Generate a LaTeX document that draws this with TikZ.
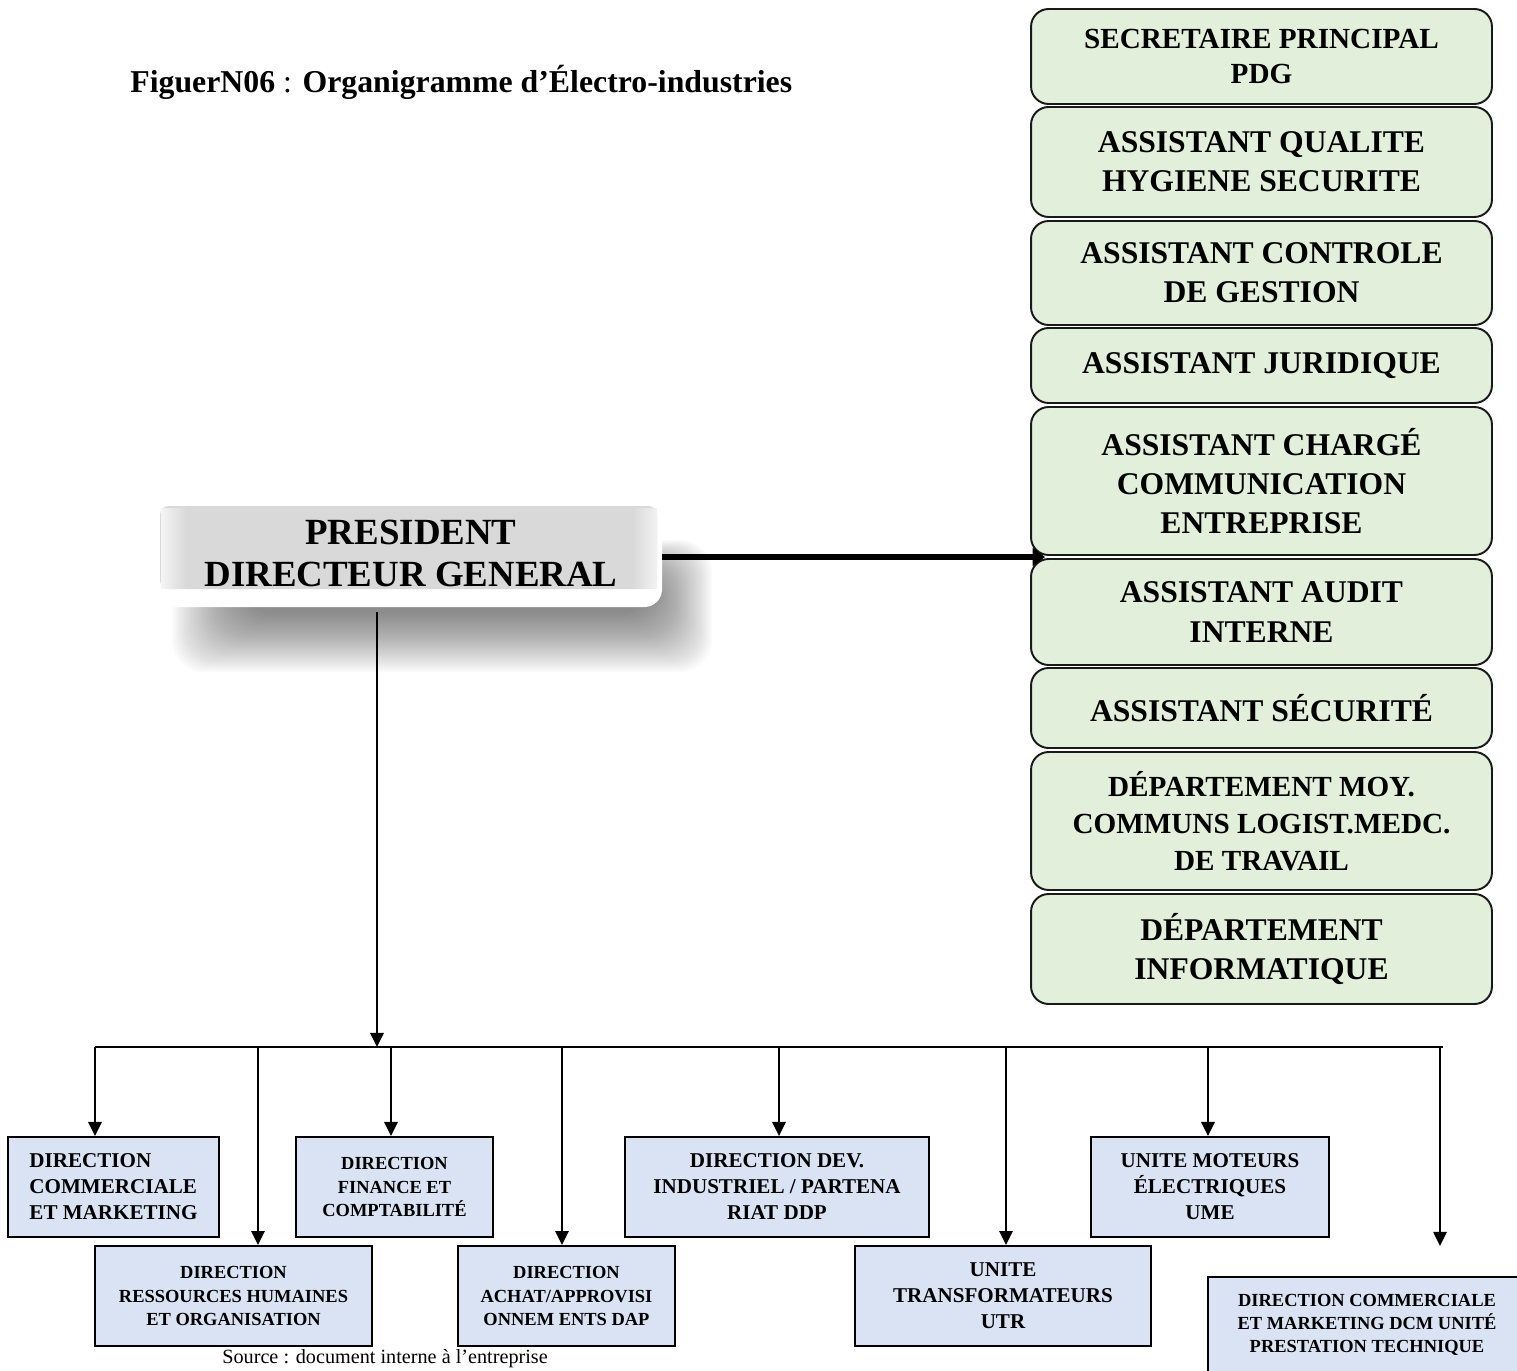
\documentclass[tikz,border=0pt]{standalone}
\usepackage{fontspec}
\setmainfont{Liberation Serif}
\usetikzlibrary{arrows.meta}
\definecolor{rgreen}{HTML}{E2EFDA}
\definecolor{bblue}{HTML}{DAE3F3}
\tikzset{
  rbox/.style={draw=black!90, line width=1.1pt, rounded corners=10pt, fill=rgreen,
    align=center, inner sep=0pt, minimum width=9.22cm,
    font=\bfseries\fontsize{18}{22.4}\selectfont},
  bbox/.style={draw=black, line width=1.1pt, fill=bblue, align=center, inner sep=0pt,
    minimum height=2cm},
  bigf/.style={font=\bfseries\fontsize{12}{14.8}\selectfont},
  smallf/.style={font=\bfseries\fontsize{10.5}{13.3}\selectfont},
  conn/.style={line width=1.3pt, -{Triangle[length=8pt,width=7.5pt]}},
  thickconn/.style={line width=3pt, -{Triangle[length=7pt,width=10pt]}},
}
\begin{document}
\begin{tikzpicture}[x=0.02cm, y=-0.02cm]
\useasboundingbox (0,0) rectangle (1517,1371);
\clip (0,0) rectangle (1517,1371);

% title
\node[anchor=west, inner sep=0pt, font=\fontsize{18.1}{21}\selectfont] (title) at (130,82)
  {\bfseries FiguerN06 \mdseries: \bfseries Organigramme d’Électro-industries};

% PDG box with soft shadow
\foreach \i in {0,...,29}{
  \fill[black, opacity=0.02, rounded corners=18pt] (172+2.4*\i,540+1.2*\i) rectangle (712-2*\i,672-2*\i);
}
\fill[white, rounded corners=10pt] (160,500) rectangle (662,607);
\fill[gray!30, rounded corners=5pt] (160,506) rectangle (657,589);
\shade[left color=gray!8, right color=gray!30] (161,508) rectangle (186,588);
\shade[left color=gray!30, right color=gray!10] (632,508) rectangle (657,588);
\node[inner sep=0pt, minimum width=10.04cm, minimum height=2.14cm, align=center,
  font=\bfseries\fontsize{21}{24.4}\selectfont] (pdg) at (411,553.5)
  {PRESIDENT\\DIRECTEUR GENERAL};

% right column
\node[rbox, minimum height=1.9cm, font=\bfseries\fontsize{16.6}{20.4}\selectfont] (sec) at (1261.5,56.5) {SECRETAIRE PRINCIPAL\\PDG};
\node[rbox, minimum height=2.2cm] (qhs) at (1261.5,162) {ASSISTANT QUALITE\\HYGIENE SECURITE};
\node[rbox, minimum height=2.08cm] (cdg) at (1261.5,273) {ASSISTANT CONTROLE\\DE GESTION};
\node[rbox, minimum height=1.5cm] (jur) at (1261.5,365.5) {ASSISTANT JURIDIQUE};
\node[rbox, minimum height=2.96cm] (com) at (1261.5,481) {ASSISTANT CHARGÉ\\COMMUNICATION\\ENTREPRISE};
\node[rbox, minimum height=2.12cm] (aud) at (1261.5,612) {ASSISTANT AUDIT\\INTERNE};
\node[rbox, minimum height=1.6cm] (secu) at (1261.5,708) {ASSISTANT SÉCURITÉ};
\node[rbox, minimum height=2.76cm, font=\bfseries\fontsize{16.6}{21}\selectfont] (moy) at (1261.5,821) {DÉPARTEMENT MOY.\\COMMUNS LOGIST.MEDC.\\DE TRAVAIL};
\node[rbox, minimum height=2.2cm] (info) at (1261.5,949) {DÉPARTEMENT\\INFORMATIQUE};

\coordinate (tip) at (1045,557);
\draw[thickconn] (pdg.east |- tip) -- (tip);

% bottom row
\node[bbox, bigf, align=left, minimum width=4.22cm] (dcm) at (113.5,1187) {DIRECTION\\COMMERCIALE\\ET MARKETING};
\node[bbox, smallf, minimum width=5.54cm] (rh) at (233.5,1296) {DIRECTION\\RESSOURCES HUMAINES\\ET ORGANISATION};
\node[bbox, smallf, minimum width=3.94cm] (fin) at (394.5,1187) {DIRECTION\\FINANCE ET\\COMPTABILITÉ};
\node[bbox, smallf, minimum width=4.34cm] (ach) at (566.5,1296) {DIRECTION\\ACHAT/APPROVISI\\ONNEM ENTS DAP};
\node[bbox, bigf, minimum width=6.08cm] (dev) at (777,1187) {DIRECTION DEV.\\INDUSTRIEL / PARTENA\\RIAT DDP};
\node[bbox, bigf, minimum width=5.92cm] (utr) at (1003,1296) {UNITE\\TRANSFORMATEURS\\UTR};
\node[bbox, bigf, minimum width=4.76cm] (ume) at (1210,1187) {UNITE MOTEURS\\ÉLECTRIQUES\\UME};
\node[bbox, smallf, minimum width=6.36cm, minimum height=1.92cm] (upt) at (1367,1325) {DIRECTION COMMERCIALE\\ET MARKETING DCM UNITÉ\\PRESTATION TECHNIQUE};

% bus
\coordinate (j0) at (377,1047);
\coordinate (d1) at (95,1047);
\coordinate (d2) at (258,1047);
\coordinate (d3) at (391,1047);
\coordinate (d4) at (562,1047);
\coordinate (d5) at (779,1047);
\coordinate (d6) at (1006,1047);
\coordinate (d7) at (1208,1047);
\coordinate (d8) at (1440,1047);
\coordinate (busR) at (1443,1047);
\coordinate (end8) at (1440,1246);

\draw[conn] ([yshift=-0.1cm]pdg.south -| j0) -- (j0);
\draw[line width=1.3pt] (d1) -- (busR);
\draw[conn] (d1) -- (d1 |- dcm.north);
\draw[conn] (d2) -- (d2 |- rh.north);
\draw[conn] (d3) -- (d3 |- fin.north);
\draw[conn] (d4) -- (d4 |- ach.north);
\draw[conn] (d5) -- (d5 |- dev.north);
\draw[conn] (d6) -- (d6 |- utr.north);
\draw[conn] (d7) -- (d7 |- ume.north);
\draw[conn] (d8) -- (end8);

% source
\node[anchor=base west, inner sep=0pt, font=\fontsize{11.5}{14}\selectfont] (src) at (222,1363)
  {Source : document interne à l’entreprise};
\end{tikzpicture}
\end{document}
